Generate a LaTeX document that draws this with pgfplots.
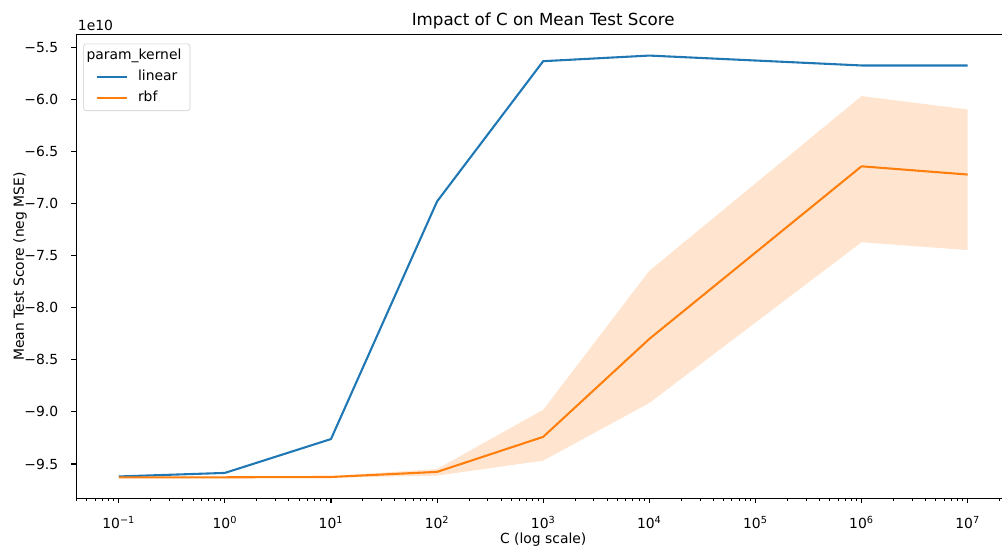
\documentclass[border=0pt]{standalone}
\usepackage{fontspec}
\setmainfont{DejaVu Sans}
\usepackage{pgfplots}
\pgfplotsset{compat=1.18}
\usepgfplotslibrary{fillbetween}

\definecolor{mplblue}{HTML}{1F77B4}
\definecolor{mplorange}{HTML}{FF7F0E}

% mean test score (x 1e10) per C value
\pgfplotstableread{
C      linear   rbf     rbflo   rbfhi
0.1    -9.620   -9.628  -9.635  -9.621
1      -9.586   -9.628  -9.635  -9.621
10     -9.261   -9.625  -9.632  -9.616
100    -6.980   -9.576  -9.612  -9.548
1000   -5.634   -9.240  -9.468  -8.980
10000  -5.580   -8.300  -8.915  -7.646
1e6    -5.675   -6.643  -7.372  -5.969
1e7    -5.675   -6.722  -7.447  -6.097
}\scores

\begin{document}
\begin{tikzpicture}
\begin{axis}[
    scale only axis,
    width=672.3pt, height=333.8pt,
    xmode=log,
    xmin=0.0398107, xmax=2.51189e7,
    ymin=-9.83, ymax=-5.38,
    clip mode=individual,
    separate axis lines,
    axis x line=box, axis y line=left,
    axis line style={-, black, line width=0.8pt},
    xtick pos=left, ytick pos=left,
    tick align=outside,
    major tick length=3.5pt, minor tick length=2pt,
    every tick/.style={black, line width=0.8pt},
    every minor tick/.style={black, line width=0.6pt},
    xtick={0.1,1,10,100,1000,10000,1e5,1e6,1e7},
    xticklabels={10\textsuperscript{−1},10\textsuperscript{0},10\textsuperscript{1},10\textsuperscript{2},10\textsuperscript{3},10\textsuperscript{4},10\textsuperscript{5},10\textsuperscript{6},10\textsuperscript{7}},
    minor xtick={0.04,0.05,0.06,0.07,0.08,0.09,0.2,0.3,0.4,0.5,0.6,0.7,0.8,0.9,2,3,4,5,6,7,8,9,20,30,40,50,60,70,80,90,200,300,400,500,600,700,800,900,2000,3000,4000,5000,6000,7000,8000,9000,2e4,3e4,4e4,5e4,6e4,7e4,8e4,9e4,2e5,3e5,4e5,5e5,6e5,7e5,8e5,9e5,2e6,3e6,4e6,5e6,6e6,7e6,8e6,9e6,2e7},
    ytick={-9.5,-9,-8.5,-8,-7.5,-7,-6.5,-6,-5.5},
    yticklabels={−9.5,−9.0,−8.5,−8.0,−7.5,−7.0,−6.5,−6.0,−5.5},
    xticklabel style={anchor=base, yshift=-18pt, font=\fontsize{10}{12}\selectfont},
    yticklabel style={anchor=east, inner sep=0pt, xshift=-9.4pt, font=\fontsize{10}{12}\selectfont},
    title={Impact of C on Mean Test Score},
    title style={at={(axis description cs:0.5,1)}, anchor=base, yshift=0.8pt, font=\fontsize{12}{14}\selectfont},
    xlabel={C (log scale)},
    xlabel style={at={([yshift=-32.2pt]axis description cs:0.5,0)}, anchor=base, font=\fontsize{10}{12}\selectfont},
    ylabel={Mean Test Score (neg MSE)},
    ylabel style={at={([xshift=-37.7pt]axis description cs:0,0.5)}, anchor=base, rotate=0, font=\fontsize{10}{12}\selectfont},
    legend cell align=left,
    legend image code/.code={\draw[#1] (0pt,0pt) -- (21.6pt,0pt);},
    legend style={at={(axis description cs:0.0075,0.981)}, anchor=north west,
        draw=black!20, fill=white, rounded corners=2pt,
        font=\fontsize{10}{12}\selectfont,
        inner xsep=8.9pt, inner ysep=4.1pt, row sep=5pt, column sep=7.2pt,
        nodes={inner sep=0pt, text height=7.5pt, text depth=2.5pt}},
]
\addlegendimage{empty legend}
\addlegendentry{\hspace{-37pt}\makebox[65.5pt][l]{param\_kernel}}

\addplot[mplblue, line width=1.5pt, line join=round] table[x=C, y=linear] {\scores};
\addlegendentry{linear}

\addplot[name path=rbfhi, draw=none, forget plot] table[x=C, y=rbfhi] {\scores};
\addplot[name path=rbflo, draw=none, forget plot] table[x=C, y=rbflo] {\scores};
\addplot[fill=mplorange, fill opacity=0.2, draw=none, forget plot] fill between[of=rbfhi and rbflo];

\addplot[mplorange, line width=1.5pt, line join=round] table[x=C, y=rbf] {\scores};
\addlegendentry{rbf}

\node[anchor=base west, inner sep=0pt, font=\fontsize{10}{12}\selectfont] at ([xshift=1pt,yshift=3.4pt]rel axis cs:0,1) {1e10};
\end{axis}
\pgfresetboundingbox
\useasboundingbox (-54.94pt,-35.78pt) rectangle (666.5pt,358.8pt);
\end{tikzpicture}
\end{document}
